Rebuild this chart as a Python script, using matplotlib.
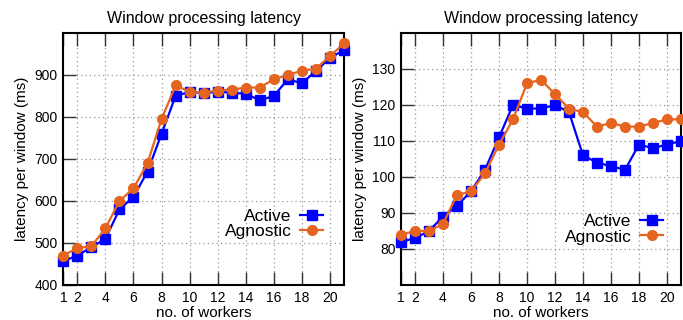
import matplotlib
matplotlib.use("Agg")
import matplotlib.pyplot as plt

workers = list(range(1, 22))
left_active = [457, 470, 490, 510, 580, 610, 670, 760, 850, 860, 857, 860, 858, 855, 840, 850, 890, 880, 910, 940, 960]
left_agnostic = [470, 488, 492, 535, 600, 630, 690, 795, 875, 860, 858, 863, 865, 870, 870, 890, 900, 910, 915, 945, 975]
right_active = [82, 83, 85, 89, 92, 96, 102, 111, 120, 119, 119, 120, 118, 106, 104, 103, 102, 109, 108, 109, 110]
right_agnostic = [84, 85, 85, 87, 95, 96, 101, 109, 116, 126, 127, 123, 119, 118, 114, 115, 114, 114, 115, 116, 116]
xticks = [1, 2, 4, 6, 8, 10, 12, 14, 16, 18, 20]
left_yticks = [400, 500, 600, 700, 800, 900]
right_yticks = [80, 90, 100, 110, 120, 130]

plt.rcParams['font.family'] = ['Liberation Sans', 'DejaVu Sans']

BLUE = '#0000ff'
ORANGE = '#e5641f'

fig = plt.figure(figsize=(6.83, 3.2), dpi=100)
ax1 = fig.add_axes([0.0927, 0.1094, 0.4110, 0.7876])
ax2 = fig.add_axes([0.5871, 0.1094, 0.4100, 0.7876])

def style(ax, active, agnostic, ylim, yticks, legend_anchor):
    ax.plot(workers, active, color=BLUE, marker='s', markersize=7, lw=1.6,
            label='Active', clip_on=False, zorder=3)
    ax.plot(workers, agnostic, color=ORANGE, marker='o', markersize=7, lw=1.6,
            label='Agnostic', clip_on=False, zorder=4)
    ax.set_xlim(1, 21)
    ax.set_ylim(*ylim)
    ax.set_xticks(xticks)
    ax.set_yticks(yticks)
    ax.tick_params(axis='both', direction='in', length=9.5, width=1, color='#333333',
                   labelsize=10, top=True, right=False, pad=4)
    ax.grid(True, linestyle=(0, (1, 2.5)), color='#999999', lw=0.9)
    for s in ax.spines.values():
        s.set_linewidth(1.5)
    ax.set_title('Window processing latency', fontsize=11.5, pad=7)
    ax.set_xlabel('no. of workers', fontsize=11, labelpad=1)
    ax.set_ylabel('latency per window (ms)', fontsize=11, labelpad=4)
    ax.legend(loc='lower right', bbox_to_anchor=legend_anchor, frameon=False,
              markerfirst=False, fontsize=12.5, handlelength=1.3, handletextpad=0.5,
              labelspacing=0.0, borderaxespad=0)

style(ax1, left_active, left_agnostic, (400, 1000), left_yticks, (0.95, 0.155))
style(ax2, right_active, right_agnostic, (70, 140), right_yticks, (0.96, 0.133))

fig.savefig('out.png', dpi=100)
